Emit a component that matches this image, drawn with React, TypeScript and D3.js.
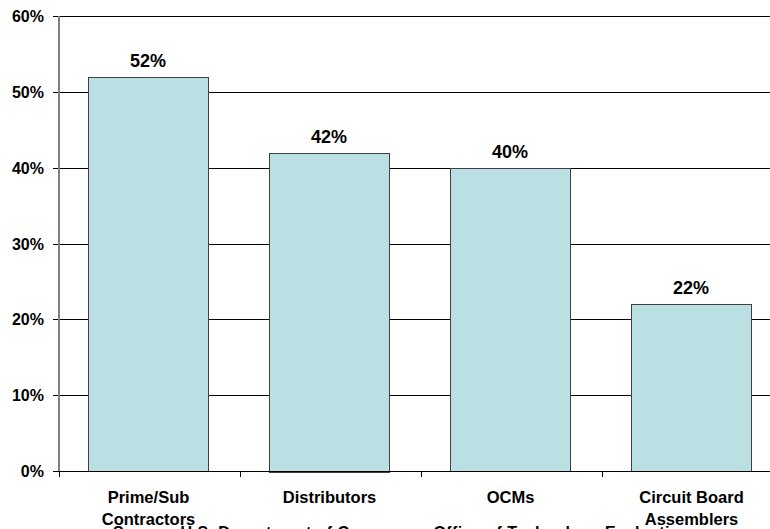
import { useMemo } from 'react'
import * as d3 from 'd3'

const categories = ['Prime/Sub|Contractors', 'Distributors', 'OCMs', 'Circuit Board|Assemblers']
const values = [52, 42, 40, 22]
const yTicks = [0, 10, 20, 30, 40, 50, 60]
const sourceNote = 'Source: U.S. Department of Commerce, Office of Technology Evaluation'

const W = 770
const H = 529
const FONT = '"Liberation Sans", Arial, sans-serif'

export default function App() {
  const left = 59
  const top = 16
  const bottom = 471
  const step = 181

  // bars are 120px wide on a 181px step, starting 29px into each category slot
  const x = useMemo(
    () => d3.scaleBand<string>().domain(categories).range([left, left + step * 3.983]).paddingInner(0.337).paddingOuter(0.16),
    []
  )
  const y = useMemo(() => d3.scaleLinear().domain([0, 60]).range([bottom, top]), [])

  return (
    <div style={{ position: 'fixed', left: 0, top: 0, background: '#fff' }}>
      <svg width={W} height={H} style={{ display: 'block', fontFamily: FONT }}>
        <rect width={W} height={H} fill="#fff" />

        {yTicks.map((t) => (
          <g key={t}>
            <line x1={53} x2={left + step * 4} y1={Math.round(y(t)) + 0.5} y2={Math.round(y(t)) + 0.5} stroke="#000" strokeWidth={1} />
            <text x={44} y={y(t) + 6} textAnchor="end" fontSize={16} fontWeight={700} fill="#000">
              {t}%
            </text>
          </g>
        ))}

        {categories.map((c, i) => (
          <g key={c}>
            <rect
              x={Math.round(x(c)!) + 0.5}
              y={Math.round(y(values[i])) + 0.5}
              width={Math.round(x.bandwidth())}
              height={Math.round(bottom - y(values[i]))}
              fill="#bae0e3"
              stroke="#404040"
              strokeWidth={1}
            />
            <text x={x(c)! + x.bandwidth() / 2} y={y(values[i]) - 10} textAnchor="middle" fontSize={18} fontWeight={700} fill="#000">
              {values[i]}%
            </text>
          </g>
        ))}

        <line x1={left} x2={left + step * 4} y1={bottom + 0.5} y2={bottom + 0.5} stroke="#000" />
        {d3.range(categories.length + 1).map((k) => (
          <line key={k} x1={left + k * step + 0.5} x2={left + k * step + 0.5} y1={bottom} y2={bottom + 6} stroke="#000" />
        ))}
        {categories.map((c) => (
          <text key={c} textAnchor="middle" fontSize={16.5} fontWeight={700} fill="#000">
            {c.split('|').map((line, j) => (
              <tspan key={j} x={left + categories.indexOf(c) * step + step / 2 - 1} y={503 + j * 22}>
                {line}
              </tspan>
            ))}
          </text>
        ))}

        <line x1={left} x2={left} y1={top} y2={bottom} stroke="#808080" strokeWidth={2} />

        <text x={113} y={538} fontSize={16} fontWeight={700} fill="#000" textLength={577} lengthAdjust="spacing">
          {sourceNote}
        </text>
      </svg>
    </div>
  )
}
